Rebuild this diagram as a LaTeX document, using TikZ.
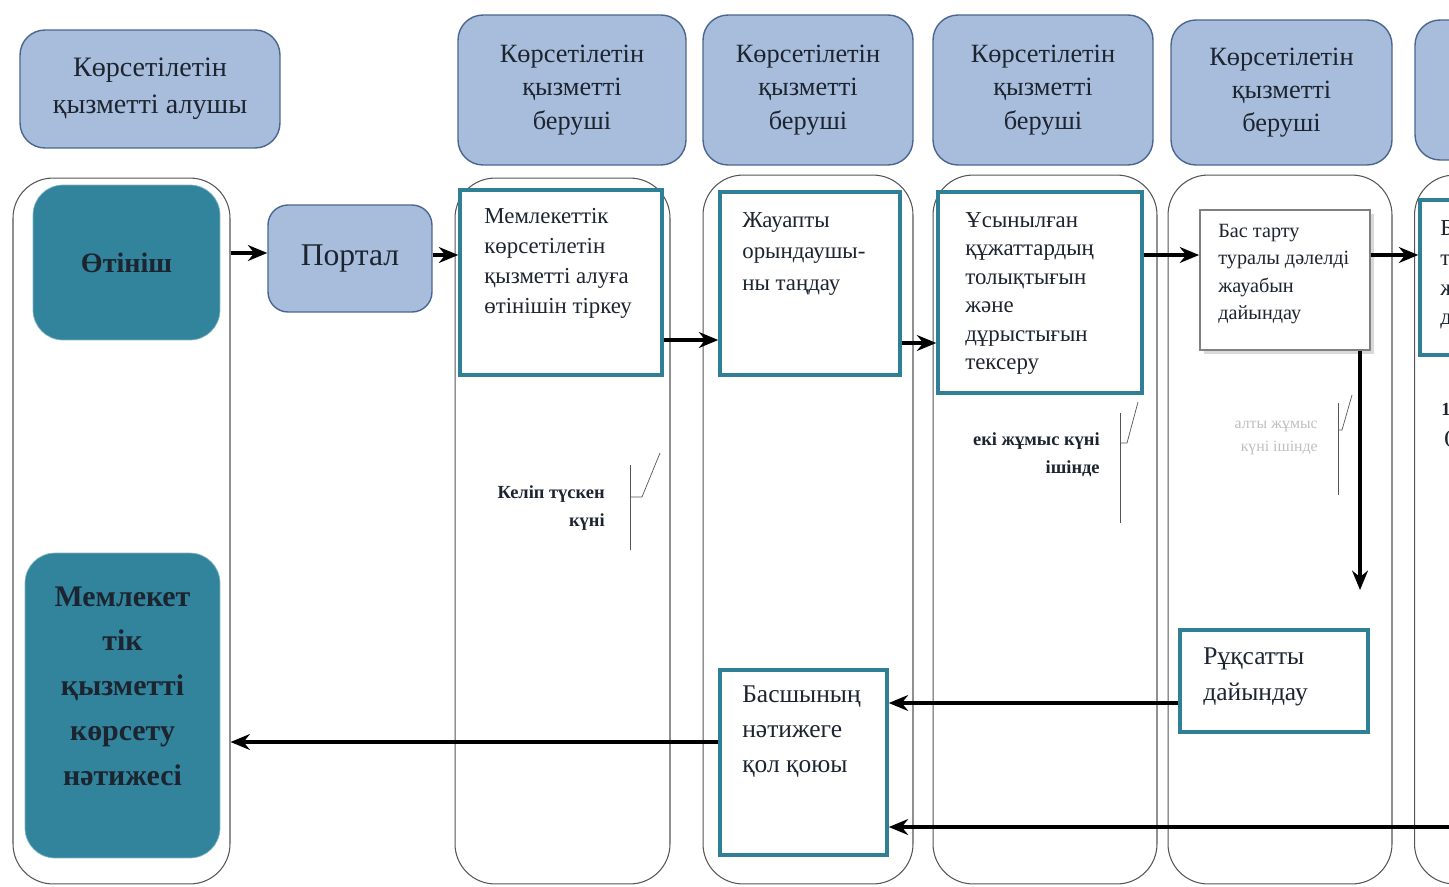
\documentclass[tikz,border=0pt]{standalone}
\usepackage{fontspec}
\setmainfont{Liberation Serif}
\usetikzlibrary{arrows.meta,shadows}

\definecolor{hdrfill}{HTML}{A8BDDB}
\definecolor{hdrline}{HTML}{4A6690}
\definecolor{tealfill}{HTML}{31849B}
\definecolor{tealline}{HTML}{2F7F96}
\definecolor{lanegray}{HTML}{555555}
\definecolor{inkdark}{HTML}{1C2430}

\begin{document}
\begin{tikzpicture}[x=0.02cm,y=-0.02cm,>={Stealth[length=11pt,width=9pt]},
    hdr/.style={draw=hdrline,fill=hdrfill,rounded corners=0.5cm,line width=0.8pt,
      align=center,text=inkdark,font=\fontsize{15}{19}\selectfont},
    lane/.style={draw=lanegray,rounded corners=0.8cm,line width=0.6pt},
    teal/.style={fill=tealfill,draw=tealfill!60!white,rounded corners=0.6cm,
      align=center,text=inkdark,font=\bfseries},
    task/.style={draw=tealline,line width=2pt,fill=white},
    txt/.style={align=left,anchor=north west,inner sep=0pt,text=inkdark,
      font=\fontsize{13}{17}\selectfont},
    note/.style={align=right,anchor=east,inner sep=0pt,text=inkdark,
      font=\fontsize{10.5}{16}\selectfont\bfseries},
    arr/.style={->,line width=2.1pt}]
  \useasboundingbox (0,0) rectangle (1449,886);
  \clip (0,0) rectangle (1449,886);

  % swim lanes
  \node[lane,minimum width=4.34cm,minimum height=14.12cm] (lane0) at (121.5,531) {};
  \node[lane,minimum width=4.3cm,minimum height=14.12cm] (lane1) at (562.5,531) {};
  \node[lane,minimum width=4.2cm,minimum height=14.18cm] (lane2) at (808,529.5) {};
  \node[lane,minimum width=4.48cm,minimum height=14.18cm] (lane3) at (1045,529.5) {};
  \node[lane,minimum width=4.48cm,minimum height=14.18cm] (lane4) at (1280,529.5) {};
  \node[lane,minimum width=4.5cm,minimum height=14.18cm] (lane5) at (1527,529.5) {};

  % headers
  \node[hdr,minimum width=5.2cm,minimum height=2.36cm,font=\fontsize{16}{21}\selectfont] (hdr0) at (150,89) {Көрсетілетін\\қызметті алушы};
  \node[hdr,minimum width=4.56cm,minimum height=3cm] (hdr1) at (572,90) {Көрсетілетін\\қызметті\\беруші};
  \node[hdr,minimum width=4.2cm,minimum height=3cm] (hdr2) at (808,90) {Көрсетілетін\\қызметті\\беруші};
  \node[hdr,minimum width=4.4cm,minimum height=3cm] (hdr3) at (1043,90) {Көрсетілетін\\қызметті\\беруші};
  \node[hdr,minimum width=4.42cm,minimum height=2.9cm] (hdr4) at (1281.5,92.5) {Көрсетілетін\\қызметті\\беруші};
  \node[hdr,minimum width=4.4cm,minimum height=2.8cm] (hdr5) at (1525,90) {Көрсетілетін\\қызметті\\беруші};

  % first lane
  \node[teal,minimum width=3.74cm,minimum height=3.1cm,font=\fontsize{16}{20}\selectfont\bfseries] (otinish) at (126.5,262.5) {Өтініш};
  \node[teal,minimum width=3.9cm,minimum height=6.1cm] (result) at (122.5,705.5) {};
  \node[align=center,text=inkdark,font=\fontsize{17}{25.5}\selectfont\bfseries] (resulttxt) at (122.5,686) {Мемлекет\\тік\\қызметті\\көрсету\\нәтижесі};
  \node[hdr,rounded corners=0.4cm,minimum width=3.28cm,minimum height=2.14cm,font=\fontsize{18}{22}\selectfont] (portal) at (350,258.5) {Портал};

  % process boxes
  \node[task,minimum width=4.04cm,minimum height=3.7cm] (reg) at (561,282.5) {};
  \node[txt] (regtxt) at (484,208) {Мемлекеттік\\көрсетілетін\\қызметті алуға\\өтінішін тіркеу};
  \node[task,minimum width=3.6cm,minimum height=3.66cm] (choose) at (810,283.5) {};
  \node[txt,font=\fontsize{13}{18}\selectfont] (choosetxt) at (742,212) {Жауапты\\орындаушы-\\ны таңдау};
  \node[task,minimum width=4.08cm,minimum height=4.02cm] (check) at (1040,292.5) {};
  \node[txt,font=\fontsize{13}{16.2}\selectfont] (checktxt) at (965,212) {Ұсынылған\\құжаттардың\\толықтығын\\және\\дұрыстығын\\тексеру};
  \node[draw=gray,line width=1pt,fill=white,drop shadow={opacity=0.3,shadow xshift=2pt,shadow yshift=-2pt},
    minimum width=3.4cm,minimum height=2.8cm] (refuse) at (1285,280) {};
  \node[txt,font=\fontsize{11.5}{15.5}\selectfont] (refusetxt) at (1218,224) {Бас тарту\\туралы дәлелді\\жауабын\\дайындау};
  \node[task,minimum width=4.4cm,minimum height=3.1cm] (next) at (1530,277.5) {};
  \node[txt] (nexttxt) at (1440,220) {Бас тарту\\туралы\\жауапқа\\дайындау};
  \node[task,minimum width=3.76cm,minimum height=2.04cm] (permit) at (1274,681) {};
  \node[txt,font=\fontsize{14.5}{20.5}\selectfont] (permittxt) at (1203,647) {Рұқсатты\\дайындау};
  \node[task,minimum width=3.34cm,minimum height=3.7cm] (sign) at (803.5,762.5) {};
  \node[txt,font=\fontsize{14.5}{20}\selectfont] (signtxt) at (742,685) {Басшының\\нәтижеге\\қол қоюы};

  % time notes
  \node[note] (note1) at (605,508) {Келіп түскен\\күні};
  \draw[lanegray] (630,465) -- (630,550);
  \draw[lanegray] (630,497) -- (642,497) -- (660,453);
  \node[note] (note2) at (1100,455) {екі жұмыс күні\\ішінде};
  \draw[lanegray] (1120,413) -- (1120,523);
  \draw[lanegray] (1120,443) -- (1127,443) -- (1138,402);
  \node[note,text=gray!50,font=\fontsize{9}{13}\selectfont] (note3) at (1318,438) {алты жұмыс\\күні ішінде};
  \draw[lanegray] (1338,403) -- (1338,495);
  \draw[lanegray] (1338,430) -- (1342,430) -- (1352,395);
  \node[note,anchor=west] (note4) at (1441,425) {1\\(};

  % connectors
  \coordinate (down) at (1360,590);
  \coordinate (edge) at (1449,827);
  \draw[arr] (lane0.east |- 0,253) -- (portal.west |- 0,253);
  \draw[arr] (portal.east |- 0,255) -- (reg.west |- 0,255);
  \draw[arr] (reg.east |- 0,340) -- (choose.west |- 0,340);
  \draw[arr] (choose.east |- 0,343) -- (check.west |- 0,343);
  \draw[arr] (check.east |- 0,255) -- (refuse.west |- 0,255);
  \draw[arr] (refuse.east |- 0,255) -- (next.west |- 0,255);
  \draw[arr] (refuse.south -| down) -- (down);
  \draw[arr] (permit.west |- 0,703) -- (sign.east |- 0,703);
  \draw[arr] (edge) -- (sign.east |- edge);
  \draw[arr] (sign.west |- 0,742) -- (lane0.east |- 0,742);
\end{tikzpicture}
\end{document}
